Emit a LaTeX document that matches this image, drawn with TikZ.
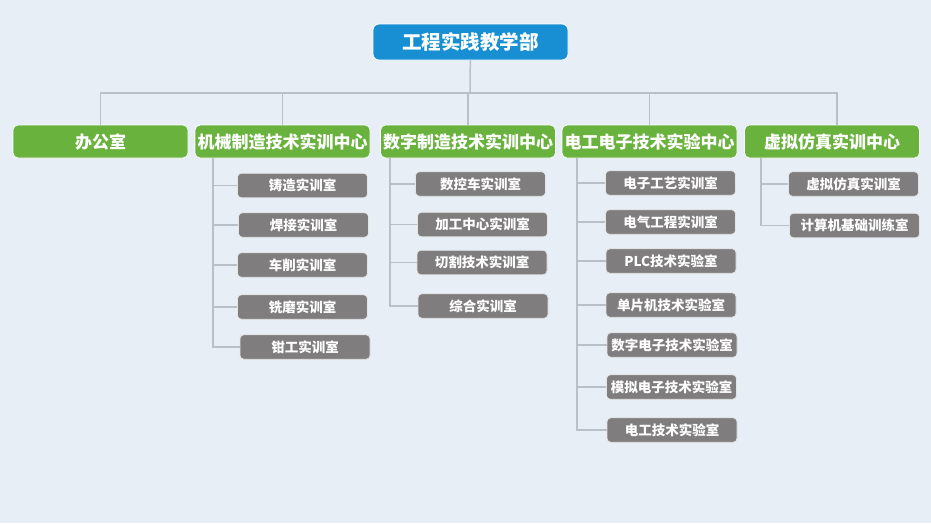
\documentclass[tikz,border=0pt]{standalone}
\usepackage{fontspec}
\newfontfamily\cjk{Noto Sans CJK SC}
\definecolor{bgblue}{HTML}{E7EEF5}
\definecolor{headblue}{HTML}{178FD2}
\definecolor{centregreen}{HTML}{6AB23E}
\definecolor{roomgray}{HTML}{7F7D7E}
\definecolor{linkgray}{HTML}{BAC0C8}
\tikzset{
	head/.style={fill=headblue, draw=white, line width=0.8pt, rounded corners=6pt, text=white, inner sep=0pt,
		minimum width=195pt, minimum height=36pt, font=\cjk\bfseries\fontsize{19.5}{22}\selectfont},
	centre/.style={fill=centregreen, draw=white, line width=0.8pt, rounded corners=5pt, text=white, inner sep=0pt,
		minimum width=175pt, minimum height=33pt, font=\cjk\bfseries\fontsize{17}{20}\selectfont},
	room/.style={fill=roomgray, draw=white!80!gray, line width=0.6pt, rounded corners=4pt, text=white, inner sep=0pt,
		minimum width=130pt, minimum height=24.5pt, font=\cjk\bfseries\fontsize{13.5}{16}\selectfont},
	link/.style={draw=linkgray, line width=1.5pt}
}
\begin{document}
\begin{tikzpicture}[x=1pt,y=-1pt]
	\fill[bgblue] (0,0) rectangle (931,523);
	% top and centres
	\node[head] (dept) at (470.5,42) {工程实践教学部};
	\node[centre] (office) at (100.5,141.5) {办公室};
	\node[centre] (mech) at (282.5,141.5) {机械制造技术实训中心};
	\node[centre] (num) at (468,141.5) {数字制造技术实训中心};
	\node[centre] (elec) at (649.5,141.5) {电工电子技术实验中心};
	\node[centre] (virt) at (832,141.5) {虚拟仿真实训中心};
	\coordinate (bus) at (470,93);
	\draw[link] (dept) -- (bus);
	\draw[link] (office.north) |- (bus) -| ([xshift=5pt]virt.north);
	\draw[link] (mech.north) -- (mech.north |- bus);
	\draw[link] (num.north) -- (num.north |- bus);
	\draw[link] (elec.north) -- (elec.north |- bus);
	% mechanical rooms
	\node[room] (m1) at (302.5,185.5) {铸造实训室};
	\node[room] (m2) at (303.5,225) {焊接实训室};
	\node[room] (m3) at (302.5,265) {车削实训室};
	\node[room] (m4) at (302.5,307) {铣磨实训室};
	\node[room] (m5) at (305,347) {钳工实训室};
	\coordinate (mechbar) at (213,158);
	\foreach \r in {1,...,5}
		\draw[link] (mechbar) |- (m\r.west);
	% numerical rooms
	\node[room] (n1) at (480.5,184) {数控车实训室};
	\node[room] (n2) at (482.5,224.5) {加工中心实训室};
	\node[room] (n3) at (482,262.5) {切割技术实训室};
	\node[room] (n4) at (483,306) {综合实训室};
	\coordinate (numbar) at (390,158);
	\foreach \r in {1,...,4}
		\draw[link] (numbar) |- (n\r.west);
	% electrical rooms
	\node[room] (e1) at (670.5,183) {电子工艺实训室};
	\node[room] (e2) at (670.5,222) {电气工程实训室};
	\node[room] (e3) at (671,261) {PLC技术实验室};
	\node[room] (e4) at (671,305) {单片机技术实验室};
	\node[room] (e5) at (672,345) {数字电子技术实验室};
	\node[room] (e6) at (671.5,387) {模拟电子技术实验室};
	\node[room] (e7) at (672,430) {电工技术实验室};
	\coordinate (elecbar) at (577,158);
	\foreach \r in {1,...,7}
		\draw[link] (elecbar) |- (e\r.west);
	% virtual rooms
	\node[room] (v1) at (853.5,184) {虚拟仿真实训室};
	\node[room] (v2) at (854.5,225.5) {计算机基础训练室};
	\coordinate (virtbar) at (761,158);
	\foreach \r in {1,2}
		\draw[link] (virtbar) |- (v\r.west);
\end{tikzpicture}
\end{document}
